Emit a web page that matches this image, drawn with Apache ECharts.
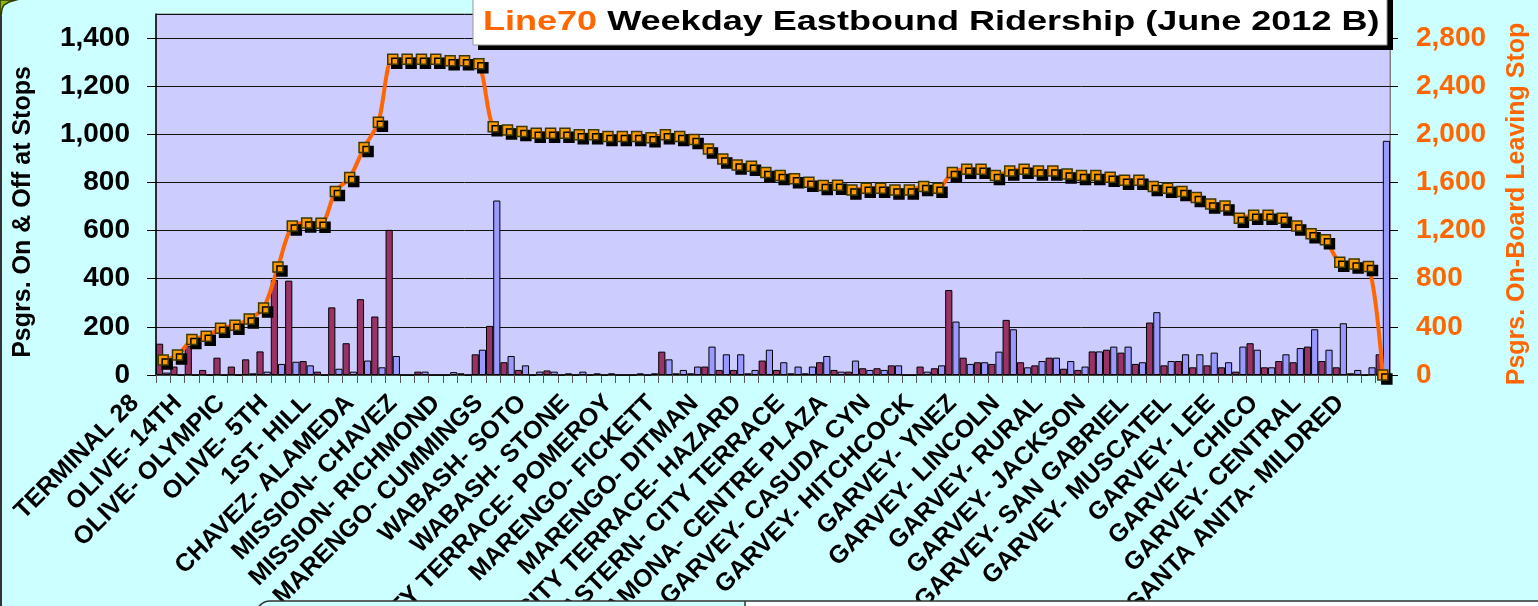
<!DOCTYPE html>
<html>
<head>
<meta charset="utf-8">
<script src="https://cdn.jsdelivr.net/npm/echarts@6/dist/echarts.min.js"></script>
<style>
html,body{margin:0;padding:0;background:#CCFFFF;}
#chart{width:1538px;height:606px;}
</style>
</head>
<body>
<div id="chart"></div>
<script>
// ---- data ----
var tickLabels = ["TERMINAL 28","OLIVE- 14TH","OLIVE- OLYMPIC","OLIVE- 5TH","1ST- HILL","CHAVEZ- ALAMEDA","MISSION- CHAVEZ","MISSION- RICHMOND","MARENGO- CUMMINGS","WABASH- SOTO","WABASH- STONE","CITY TERRACE- POMEROY","MARENGO- FICKETT","MARENGO- DITMAN","CITY TERRACE- HAZARD","EASTERN- CITY TERRACE","RAMONA- CENTRE PLAZA","GARVEY- CASUDA CYN","GARVEY- HITCHCOCK","GARVEY- YNEZ","GARVEY- LINCOLN","GARVEY- RURAL","GARVEY- JACKSON","GARVEY- SAN GABRIEL","GARVEY- MUSCATEL","GARVEY- LEE","GARVEY- CHICO","GARVEY- CENTRAL","SANTA ANITA- MILDRED"];
var onValues = [130,35,120,21,72,35,65,98,395,392,58,14,281,132,315,243,603,0,14,0,0,7,86,204,53,21,0,19,0,0,0,0,0,0,0,97,7,7,35,21,21,7,60,21,7,7,53,21,14,28,28,40,0,35,28,353,72,53,46,229,53,40,72,26,21,98,105,93,46,218,40,58,32,40,32,14,132,32,58,53,118,58,32,7,0,86];
var offValues = [10,0,0,0,0,0,7,14,46,55,40,0,26,14,60,32,79,0,14,0,12,0,105,725,79,40,14,14,7,14,7,7,0,7,7,65,21,35,118,86,86,21,105,53,35,35,79,14,60,21,21,40,0,14,40,222,46,53,97,190,32,58,72,58,35,98,118,118,53,261,58,86,86,93,53,118,105,32,86,112,190,105,215,21,32,973];
var onBoard = [125,166,294,322,388,413,466,557,898,1239,1264,1261,1525,1641,1890,2101,2625,2625,2625,2625,2611,2611,2586,2062,2037,2024,2010,2010,2010,1996,1996,1982,1982,1982,1971,1996,1982,1957,1879,1796,1746,1735,1683,1658,1630,1602,1575,1577,1538,1552,1552,1538,1538,1566,1552,1683,1710,1710,1658,1696,1710,1696,1696,1671,1658,1658,1644,1619,1619,1566,1552,1525,1475,1422,1405,1303,1328,1328,1303,1239,1173,1123,937,923,901,0];
var labelEvery = 3;

var categories = onValues.map(function(_, i){ return 'S' + (i + 1); });
var FONT = "'Liberation Sans', Arial, sans-serif";
function commas(v){ return String(v).replace(/\B(?=(\d{3})+(?!\d))/g, ','); }

var chart = echarts.init(document.getElementById('chart'), null, {renderer:'canvas'});
var option = {
  animation: false,
  backgroundColor: '#CCFFFF',
  grid: {left:156, right:148, top:14, bottom:231, containLabel:false, outerBoundsMode:'none',
         show:true, backgroundColor:'#CCCCFF', borderColor:'#808080', borderWidth:1},
  xAxis: {
    type:'category', data:categories, boundaryGap:true,
    axisLine:{show:true, lineStyle:{color:'#555', width:1.5}},
    axisTick:{show:true, interval:0, length:8, lineStyle:{color:'#555'}},
    axisLabel:{
      interval:0, rotate:45, margin:-4, padding:[0,40,0,0],
      fontFamily:FONT, fontWeight:'bold', fontSize:25, color:'#000',
      formatter:function(v, idx){ return idx % labelEvery === 0 ? (tickLabels[idx / labelEvery] || '') : ''; }
    }
  },
  yAxis: [
    {
      type:'value', position:'left', min:0, max:1500, interval:200,
      name:'Psgrs. On & Off at Stops', nameLocation:'middle', nameRotate:90, nameGap:120,
      nameTextStyle:{fontFamily:FONT, fontWeight:'bold', fontSize:25, color:'#000', padding:[0,35,0,0]},
      axisLine:{show:true, lineStyle:{color:'#000', width:1.5}},
      axisTick:{show:true, length:9, lineStyle:{color:'#000'}},
      splitLine:{show:true, lineStyle:{color:'#111', width:1}},
      axisLabel:{showMaxLabel:false, margin:26, fontFamily:FONT, fontWeight:'bold', fontSize:28, color:'#000', formatter:function(v){return commas(v);}}
    },
    {
      type:'value', position:'right', min:0, max:3000, interval:400,
      name:'Psgrs. On-Board Leaving Stop', nameLocation:'middle', nameRotate:90, nameGap:115,
      nameTextStyle:{fontFamily:FONT, fontWeight:'bold', fontSize:25, color:'#FF6600', padding:[0,19,0,0]},
      axisLine:{show:true, lineStyle:{color:'#808080', width:1}},
      axisTick:{show:true, length:8, lineStyle:{color:'#000'}},
      splitLine:{show:false},
      axisLabel:{showMaxLabel:false, margin:26, fontFamily:FONT, fontWeight:'bold', fontSize:28, color:'#FF6600', formatter:function(v){return commas(v);}}
    }
  ],
  series: [
    {name:'On', type:'bar', data:onValues, barGap:'0%', barCategoryGap:'0%',
     itemStyle:{color:'#993366', borderColor:'#000', borderWidth:1}},
    {name:'Off', type:'bar', data:offValues, barGap:'0%', barCategoryGap:'0%',
     itemStyle:{color:'#9999FF', borderColor:'#000', borderWidth:1}},
    {name:'On-Board', type:'line', yAxisIndex:1, data:onBoard, smooth:0.3, z:5,
     symbol:'rect', symbolSize:10,
     lineStyle:{color:'#FF6600', width:4},
     itemStyle:{color:'#FF9900', borderColor:'#3d3800', borderWidth:1.5, shadowColor:'#000', shadowBlur:0, shadowOffsetX:4, shadowOffsetY:4}}
  ],
  graphic: [
    // title box with shadow
    {type:'rect', shape:{x:478, y:-6, width:915, height:56}, style:{fill:'#000'}, z:10},
    {type:'rect', shape:{x:473, y:-6, width:914, height:51}, style:{fill:'#fff', stroke:'#999', lineWidth:1}, z:11},
    {type:'group', x:483, y:22, scaleX:1.287, z:12, children:[
      {type:'text', x:0, y:0, style:{text:'Line70', font:"bold 28px 'Liberation Sans', Arial, sans-serif", fill:'#FF6600', verticalAlign:'middle', align:'left'}, z:12},
      {type:'text', x:88.7, y:0, style:{text:' Weekday Eastbound Ridership (June 2012 B)', font:"bold 28px 'Liberation Sans', Arial, sans-serif", fill:'#000', verticalAlign:'middle', align:'left'}, z:12}
    ]},
    // outer frame pieces
    {type:'polygon', shape:{points:[[0,0],[16,0],[9,2],[4,5],[2,9],[1,16],[0,16]]}, style:{fill:'#8DB600', stroke:'#2f3b00', lineWidth:1.5}, z:10},
    {type:'line', shape:{x1:1, y1:16, x2:1, y2:606}, style:{stroke:'#333', lineWidth:2}, z:10},
    {type:'rect', shape:{x:256, y:601, width:1300, height:30, r:[14,0,0,0]}, style:{fill:'#CCFFFF', stroke:'#333', lineWidth:1.5}, z:11},
    {type:'rect', shape:{x:746, y:602, width:800, height:10}, style:{fill:'#fff'}, z:12},
    {type:'line', shape:{x1:745, y1:601, x2:745, y2:606}, style:{stroke:'#333', lineWidth:1.5}, z:12}
  ]
};
chart.setOption(option);
</script>
</body>
</html>
